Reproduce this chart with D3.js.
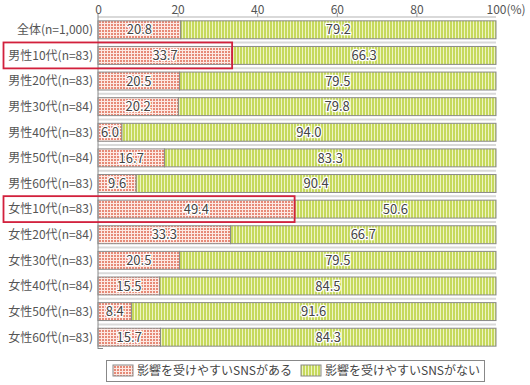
<!DOCTYPE html>
<html>
<head>
<meta charset="utf-8">
<style>
  body { margin:0; background:#fff; }
  text { font-family:"Noto Sans CJK JP","Noto Sans",sans-serif; }
</style>
</head>
<body>
<div id="chart"></div>
<script src="https://cdn.jsdelivr.net/npm/d3@7"></script>
<script>
var categories = ["全体(n=1,000)","男性10代(n=83)","男性20代(n=83)","男性30代(n=84)","男性40代(n=83)","男性50代(n=84)","男性60代(n=83)",
                  "女性10代(n=83)","女性20代(n=84)","女性30代(n=83)","女性40代(n=84)","女性50代(n=83)","女性60代(n=83)"];
var yesValues = [20.8, 33.7, 20.5, 20.2, 6.0, 16.7, 9.6, 49.4, 33.3, 20.5, 15.5, 8.4, 15.7];
var noValues  = [79.2, 66.3, 79.5, 79.8, 94.0, 83.3, 90.4, 50.6, 66.7, 79.5, 84.5, 91.6, 84.3];
var seriesNames = ["影響を受けやすいSNSがある", "影響を受けやすいSNSがない"];
var xTicks = [0, 20, 40, 60, 80, 100];
var highlighted = ["男性10代(n=83)", "女性10代(n=83)"];

var width = 530, height = 385;
var svg = d3.select('#chart').append('svg').attr('width', width).attr('height', height);

// patterns
var defs = svg.append('defs');
var pr = defs.append('pattern').attr('id','pRed').attr('patternUnits','userSpaceOnUse')
  .attr('width',3).attr('height',3);
pr.append('rect').attr('width',3).attr('height',3).attr('fill','#fde9e3');
pr.append('rect').attr('width',2).attr('height',2).attr('fill','#e68a77');
var pg = defs.append('pattern').attr('id','pGreen').attr('patternUnits','userSpaceOnUse')
  .attr('width',3).attr('height',3);
pg.append('rect').attr('width',3).attr('height',3).attr('fill','#eef4c4');
pg.append('rect').attr('width',2).attr('height',3).attr('fill','#c6d95c');

var x = d3.scaleLinear().domain([0,100]).range([98, 496]);
var y = d3.scaleBand().domain(categories).range([17, 350]).paddingInner(0.3).paddingOuter(0.15);
var step = y.step();

// separators
svg.selectAll('.sep').data(categories).enter().append('line')
  .attr('x1', x(0)).attr('x2', x(100))
  .attr('y1', function(d,i){ return 17 + i*step; })
  .attr('y2', function(d,i){ return 17 + i*step; })
  .attr('stroke', '#d9d9d9').attr('stroke-width', 2);

// top ticks
var axis = svg.append('g').attr('transform','translate(0,17)')
  .call(d3.axisTop(x).tickValues(xTicks).tickSize(4).tickPadding(0).tickFormat(function(d){ return d; }));
axis.select('.domain').remove();
axis.selectAll('line').attr('stroke','#999');
axis.selectAll('text').attr('fill','#555').style('font-size','12px').attr('y', -3).attr('dy', 0);
axis.selectAll('.tick').filter(function(d){ return d === 0 || d === 100; }).select('line').remove();
axis.selectAll('.tick').filter(function(d){ return d === 100; }).select('text')
  .attr('text-anchor','start').attr('dx','-10px').text('100(%)');

// bars
var rows = svg.selectAll('.row').data(categories).enter().append('g');
rows.append('rect')
  .attr('x', x(0)).attr('y', function(d){ return y(d); })
  .attr('width', function(d,i){ return x(yesValues[i]) - x(0); })
  .attr('height', y.bandwidth())
  .attr('fill','url(#pRed)').attr('stroke','#8a8a8a').attr('stroke-width',1);
rows.append('rect')
  .attr('x', function(d,i){ return x(yesValues[i]); }).attr('y', function(d){ return y(d); })
  .attr('width', function(d,i){ return x(yesValues[i] + noValues[i]) - x(yesValues[i]); })
  .attr('height', y.bandwidth())
  .attr('fill','url(#pGreen)').attr('stroke','#8a8a8a').attr('stroke-width',1);

function valLabel(sel, xf, tf) {
  sel.append('text')
    .attr('x', xf).attr('y', function(d){ return y(d) + y.bandwidth()/2; })
    .attr('dy','0.36em').attr('text-anchor','middle')
    .style('font-size','13px').attr('fill','#444')
    .attr('stroke','#fff').attr('stroke-width',2.5).attr('paint-order','stroke')
    .text(tf);
}
valLabel(rows, function(d,i){ return x(yesValues[i]/2); }, function(d,i){ return yesValues[i].toFixed(1); });
valLabel(rows, function(d,i){ return x(yesValues[i] + noValues[i]/2); }, function(d,i){ return noValues[i].toFixed(1); });

// category labels
rows.append('text')
  .attr('x', 93).attr('y', function(d){ return y(d) + y.bandwidth()/2; })
  .attr('dy','0.36em').attr('text-anchor','end')
  .style('font-size','12px').attr('fill','#555')
  .text(function(d){ return d; });

// left axis line
svg.append('line').attr('x1', x(0)).attr('x2', x(0)).attr('y1', 14).attr('y2', 349)
  .attr('stroke','#888').attr('stroke-width',1);
svg.append('line').attr('x1', x(0)).attr('x2', x(0)+5).attr('y1', 348.5).attr('y2', 348.5)
  .attr('stroke','#888').attr('stroke-width',1);

// highlight boxes
svg.selectAll('.hl').data(highlighted).enter().append('rect')
  .attr('x', 3.5)
  .attr('y', function(d){ return y(d) - 4; })
  .attr('width', function(d){ return x(yesValues[categories.indexOf(d)]) - 3.5; })
  .attr('height', y.bandwidth() + 8)
  .attr('fill','none').attr('stroke','#d2203c').attr('stroke-width',1.8);

// legend
var lg = svg.append('g');
lg.append('rect').attr('x',106.5).attr('y',360.5).attr('width',378).attr('height',21)
  .attr('fill','#fff').attr('stroke','#888');
var fills = ['url(#pRed)','url(#pGreen)'];
var lx = [113, 301];
seriesNames.forEach(function(s,i){
  lg.append('rect').attr('x', lx[i]).attr('y', 365).attr('width', 20).attr('height', 11)
    .attr('fill', fills[i]).attr('stroke','#8a8a8a');
  lg.append('text').attr('x', lx[i] + 24).attr('y', 371).attr('dy','0.36em')
    .style('font-size','12px').attr('fill','#444').text(s);
});
</script>
</body>
</html>
